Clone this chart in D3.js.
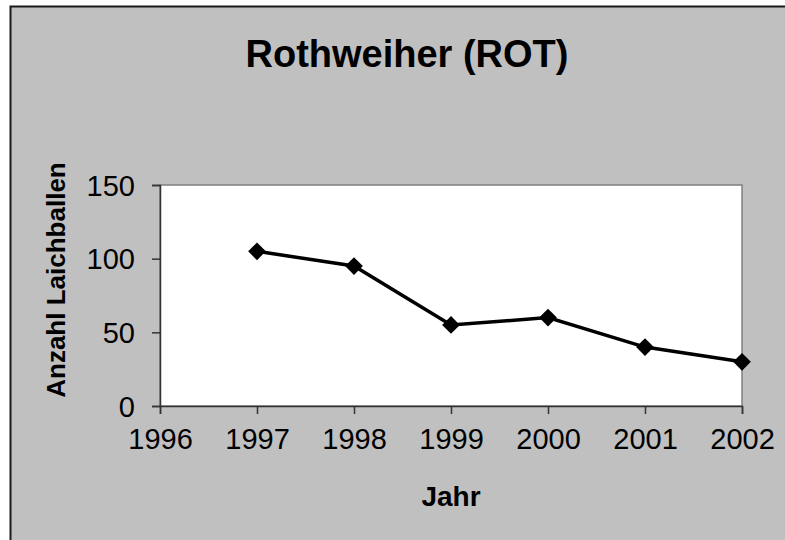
<!DOCTYPE html>
<html>
<head>
<meta charset="utf-8">
<script src="https://cdn.jsdelivr.net/npm/d3@7"></script>
<style>
  body { margin: 0; background: #fff; }
  text { font-family: "Liberation Sans", Arial, sans-serif; fill: #000; }
</style>
</head>
<body>
<div id="chart"></div>
<script>
var years = [1997, 1998, 1999, 2000, 2001, 2002];
var counts = [105, 95, 55, 60, 40, 30];
var xTicks = [1996, 1997, 1998, 1999, 2000, 2001, 2002];
var yTicks = [0, 50, 100, 150];

var dims = {
    width: 785,
    height: 540,
    left: 160,
    right: 742,
    top: 185,
    bottom: 406
};

var svg = d3.select('#chart')
    .append('svg')
    .attr('width', dims.width)
    .attr('height', dims.height);

// chart area (border runs off the right and bottom of the picture)
svg.append('rect')
    .attr('x', 10.5)
    .attr('y', 6.5)
    .attr('width', 800)
    .attr('height', 560)
    .attr('fill', '#c0c0c0')
    .attr('stroke', '#1a1a1a')
    .attr('stroke-width', 2);

var x = d3.scaleLinear()
    .domain([1996, 2002])
    .range([dims.left, dims.right]);

var y = d3.scaleLinear()
    .domain([0, 150])
    .range([dims.bottom, dims.top]);

// plot area
svg.append('rect')
    .attr('x', dims.left)
    .attr('y', dims.top)
    .attr('width', dims.right - dims.left)
    .attr('height', dims.bottom - dims.top)
    .attr('fill', '#fff')
    .attr('stroke', '#808080')
    .attr('stroke-width', 1.5);

var xAxis = svg.append('g')
    .attr('transform', 'translate(0,' + dims.bottom + ')')
    .call(d3.axisBottom(x)
        .tickValues(xTicks)
        .tickFormat(d3.format('d'))
        .tickSize(8)
        .tickPadding(14));

var yAxis = svg.append('g')
    .attr('transform', 'translate(' + dims.left + ',0)')
    .call(d3.axisLeft(y)
        .tickValues(yTicks)
        .tickSize(8)
        .tickPadding(17));

[xAxis, yAxis].forEach(function(a){
    a.select('.domain').attr('stroke', '#333').attr('stroke-width', 1.5);
    a.selectAll('.tick line').attr('stroke', '#333').attr('stroke-width', 1.5);
    a.selectAll('.tick text')
        .attr('fill', '#000')
        .style('font-family', '"Liberation Sans", Arial, sans-serif')
        .style('font-size', '29px');
});
xAxis.selectAll('.tick text').attr('dy', '0.71em');
yAxis.selectAll('.tick text').attr('dy', '0.35em');

var data = years.map(function(yr, i){
    return {year: yr, num: counts[i]};
});

var line = d3.line()
    .x(function(d){ return x(d.year); })
    .y(function(d){ return y(d.num); });

svg.append('path')
    .datum(data)
    .attr('d', line)
    .attr('fill', 'none')
    .attr('stroke', '#000')
    .attr('stroke-width', 3.5);

svg.selectAll('path.marker')
    .data(data)
    .enter()
    .append('path')
    .attr('class', 'marker')
    .attr('d', d3.symbol().type(d3.symbolDiamond2).size(200))
    .attr('transform', function(d){
        return 'translate(' + x(d.year) + ',' + y(d.num) + ')';
    })
    .attr('fill', '#000');

svg.append('text')
    .attr('x', 407)
    .attr('y', 67)
    .attr('text-anchor', 'middle')
    .style('font-size', '38px')
    .style('font-weight', 'bold')
    .text('Rothweiher (ROT)');

svg.append('text')
    .attr('x', 451)
    .attr('y', 506)
    .attr('text-anchor', 'middle')
    .style('font-size', '28px')
    .style('font-weight', 'bold')
    .text('Jahr');

svg.append('text')
    .attr('transform', 'translate(65,280) rotate(-90)')
    .attr('text-anchor', 'middle')
    .style('font-size', '26px')
    .style('font-weight', 'bold')
    .text('Anzahl Laichballen');
</script>
</body>
</html>
